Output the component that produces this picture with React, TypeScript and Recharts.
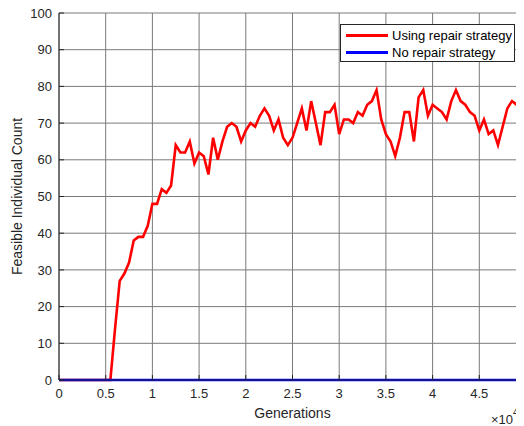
import {
  CartesianGrid,
  Legend,
  Line,
  LineChart,
  XAxis,
  YAxis,
} from "recharts";

// feasible individuals per generation, sampled every 500 generations (0 .. 50000)
const usingRepair = [
  0, 0, 0, 0, 0, 0, 0, 0, 0, 0, 0, 0,
  14, 27, 29, 32, 38, 39, 39, 42, 48, 48,
  52, 51, 53, 64, 62, 62, 65, 59, 62, 61,
  56, 66, 60, 65, 69, 70, 69, 65, 68, 70,
  69, 72, 74, 72, 68, 71, 66, 64, 66, 70,
  74, 68, 76, 70, 64, 73, 73, 75, 67, 71,
  71, 70, 73, 72, 75, 76, 79, 71, 67, 65,
  61, 66, 73, 73, 65, 77, 79, 72, 75, 74,
  73, 71, 76, 79, 76, 75, 73, 72, 68, 71,
  67, 68, 64, 69, 74, 76, 75, 75, 71,
];
const noRepair = usingRepair.map(() => 0);
const GEN_STEP = 500;
const generations = usingRepair.map((_, i) => i * GEN_STEP);

const xTicks = [0, 5000, 10000, 15000, 20000, 25000, 30000, 35000, 40000, 45000, 50000];
const yTicks = [0, 10, 20, 30, 40, 50, 60, 70, 80, 90, 100];

const seriesNames = ["Using repair strategy", "No repair strategy"];
const seriesColors = ["#ff0000", "#0000ff"];

const data = generations.map((gen, i) => ({
  gen,
  repair: usingRepair[i],
  noRepair: noRepair[i],
}));

const FONT = '"Liberation Sans", Arial, Helvetica, sans-serif';
const INK = "#262626";

function LegendBox() {
  return (
    <div
      style={{
        border: `1px solid ${INK}`,
        background: "#fff",
        width: 175,
        height: 38,
        boxSizing: "border-box",
        fontFamily: FONT,
        fontSize: 13,
        color: "#000",
        paddingTop: 2,
      }}
    >
      {seriesNames.map((name, i) => (
        <div key={name} style={{ display: "flex", alignItems: "center", height: 17 }}>
          <div
            style={{
              width: 42,
              height: 3,
              background: seriesColors[i],
              marginLeft: 5,
              marginRight: 4,
            }}
          />
          <span>{name}</span>
        </div>
      ))}
    </div>
  );
}

function XLabel(props: any) {
  const { x, y, width } = props.viewBox;
  return (
    <g fontFamily={FONT} fill={INK}>
      <text x={x + width / 2} y={y + 38} textAnchor="middle" fontSize={14}>
        Generations
      </text>
      <text x={483} y={416} fontSize={13}>
        ×10
        <tspan fontSize={10} dy={-8}>4</tspan>
      </text>
    </g>
  );
}

function YLabel(props: any) {
  const { y, height } = props.viewBox;
  const cy = y + height / 2;
  return (
    <text
      x={9}
      y={cy}
      transform={`rotate(-90, 9, ${cy})`}
      textAnchor="middle"
      dominantBaseline="central"
      fontFamily={FONT}
      fontSize={14}
      fill={INK}
    >
      Feasible Individual Count
    </text>
  );
}

export default function App() {
  const tickStyle = { fontSize: 13, fill: INK, fontFamily: FONT };
  return (
    <div style={{ width: 516, height: 418, overflow: "hidden", position: "relative" }}>
      <LineChart
        width={540}
        height={418}
        data={data}
        margin={{ top: 5, right: 22, left: 0, bottom: 0 }}
      >
        <CartesianGrid stroke="#7a7a7a" strokeWidth={1} />
        <XAxis
          dataKey="gen"
          type="number"
          domain={[0, 50000]}
          ticks={xTicks}
          interval={0}
          tickFormatter={(v: number) => String(v / 10000)}
          tick={tickStyle}
          tickSize={-5}
          tickMargin={14}
          height={46}
          stroke={INK}
          label={<XLabel />}
        />
        <XAxis
          xAxisId="top"
          orientation="top"
          type="number"
          domain={[0, 50000]}
          ticks={xTicks}
          interval={0}
          tickFormatter={() => ""}
          tickSize={-5}
          height={0}
          stroke={INK}
        />
        <YAxis
          domain={[0, 100]}
          ticks={yTicks}
          interval={0}
          tick={tickStyle}
          tickSize={-5}
          tickMargin={12}
          width={51}
          stroke={INK}
          label={<YLabel />}
        />
        <Legend
          layout="horizontal"
          verticalAlign="middle"
          align="center"
          content={<LegendBox />}
          wrapperStyle={{ position: "absolute", left: 332, top: 16, width: 175 }}
        />
        <Line
          type="linear"
          dataKey="repair"
          name={seriesNames[0]}
          stroke={seriesColors[0]}
          strokeWidth={2.6}
          dot={false}
          isAnimationActive={false}
        />
        <Line
          type="linear"
          dataKey="noRepair"
          name={seriesNames[1]}
          stroke={seriesColors[1]}
          strokeWidth={2.6}
          dot={false}
          isAnimationActive={false}
        />
      </LineChart>
    </div>
  );
}
